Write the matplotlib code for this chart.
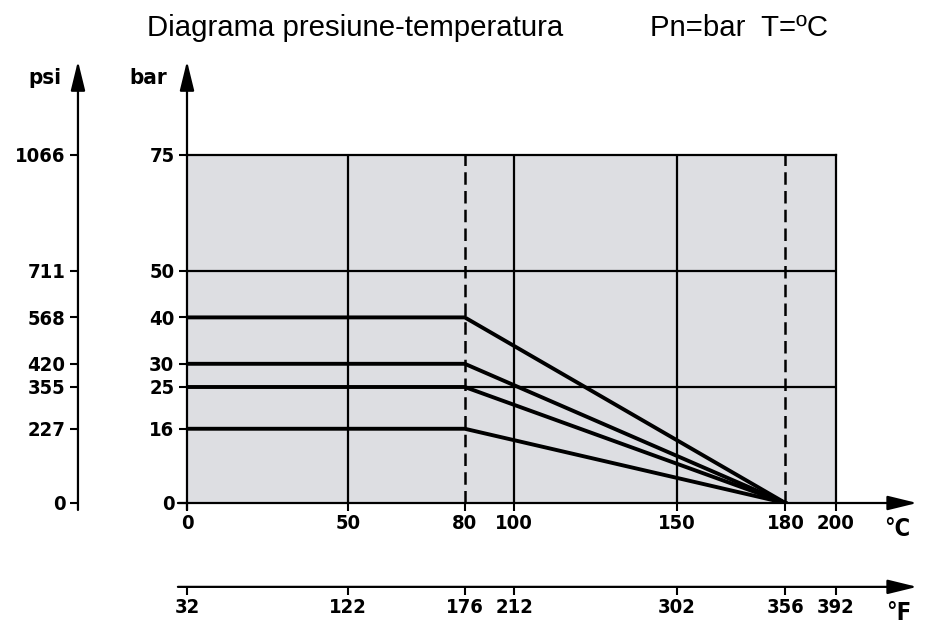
import matplotlib.pyplot as plt
import numpy as np

# pressure-temperature rating: flat up to 80 C, then down to 0 bar at 180 C
temp_c = [0, 80, 180]
pn_bar = [40, 30, 25, 16]

c_ticks = [0, 50, 80, 100, 150, 180, 200]
f_ticks = [32, 122, 176, 212, 302, 356, 392]
bar_ticks = [0, 16, 25, 30, 40, 50, 75]
psi_labels = ['0', '227', '355', '420', '568', '711', '1066']
grid_x = [50, 100, 150]
dash_x = [80, 180]
grid_y = [25, 50]

# the original drawing is not to scale along the temperature axis:
# where each tick value sits, as a fraction of the axis length
drawn_frac = [0, 0.248, 0.428, 0.504, 0.755, 0.922, 1.0]


def c_fwd(x):
    return np.interp(x, c_ticks, drawn_frac)


def c_inv(x):
    return np.interp(x, drawn_frac, c_ticks)


def f_fwd(x):
    return np.interp(x, f_ticks, drawn_frac)


def f_inv(x):
    return np.interp(x, drawn_frac, f_ticks)


plt.rcParams['font.family'] = 'DejaVu Sans'
plt.rcParams['font.stretch'] = 'condensed'
plt.rcParams['font.weight'] = 'bold'
fig = plt.figure(figsize=(9.31, 6.29), dpi=100)
ax = fig.add_axes([187 / 931, 126 / 629, 649 / 931, 348 / 629])
ax.set_facecolor('#dddee2')
ax.set_xscale('function', functions=(c_fwd, c_inv))
ax.set_xlim(0, 200)
ax.set_ylim(0, 75)

for x in grid_x:
    ax.axvline(x, color='k', lw=1.6)
for x in dash_x:
    ax.axvline(x, color='k', lw=1.8, dashes=(5, 2.5))
for y in grid_y:
    ax.axhline(y, color='k', lw=1.6)
for p in pn_bar:
    ax.plot(temp_c, [p, p, 0], color='k', lw=2.8, solid_joinstyle='miter')

ax.spines['left'].set_visible(False)
ax.spines['bottom'].set_visible(False)
ax.spines['top'].set_linewidth(1.6)
ax.spines['right'].set_linewidth(1.6)

tick_font = dict(labelsize=14.5, width=1.5, length=6, direction='out')
ax.set_xticks(c_ticks, labels=[str(c) for c in c_ticks])
ax.set_yticks(bar_ticks, labels=[str(b) for b in bar_ticks])
ax.xaxis.set_minor_locator(plt.NullLocator())
ax.tick_params(axis='x', pad=2, **tick_font)
ax.tick_params(axis='y', pad=3, **tick_font)

sec_psi = ax.secondary_yaxis(-0.168)
sec_psi.set_yticks(bar_ticks, labels=psi_labels)
sec_psi.tick_params(axis='y', pad=3, **tick_font)
for s in sec_psi.spines.values():
    s.set_visible(False)

# Fahrenheit axis, same drawn positions as the Celsius ticks
ax_f = fig.add_axes([187 / 931, (629 - 587) / 629, 649 / 931, 0.0001])
ax_f.set_xscale('function', functions=(f_fwd, f_inv))
ax_f.set_xlim(32, 392)
ax_f.set_yticks([])
ax_f.set_xticks(f_ticks, labels=[str(f) for f in f_ticks])
ax_f.xaxis.set_minor_locator(plt.NullLocator())
ax_f.tick_params(axis='x', pad=2, **tick_font)
for s in ax_f.spines.values():
    s.set_visible(False)

arrow = dict(arrowstyle='-|>,head_length=0.9,head_width=0.22', color='k', lw=1.6,
             mutation_scale=20, shrinkA=0, shrinkB=0)
for x0 in [0, -0.168]:
    ax.annotate('', xy=(x0, 1.27), xytext=(x0, -0.02), xycoords='axes fraction',
                arrowprops=arrow, annotation_clip=False)
for y0 in [0, -0.241]:
    ax.annotate('', xy=(1.125, y0), xytext=(-0.014, y0), xycoords='axes fraction',
                arrowprops=arrow, annotation_clip=False)

ax.text(-0.219, 1.221, 'psi', transform=ax.transAxes, ha='center', va='center', fontsize=16)
ax.text(-0.060, 1.221, 'bar', transform=ax.transAxes, ha='center', va='center', fontsize=16)
ax.text(1.095, -0.075, '°C', transform=ax.transAxes, ha='center', va='center', fontsize=17)
ax.text(1.097, -0.315, '°F', transform=ax.transAxes, ha='center', va='center', fontsize=17)

fig.text(147 / 931, 1 - 28 / 629, 'Diagrama presiune-temperatura', va='center',
         fontfamily='Liberation Sans', fontstretch='normal', fontweight='normal',
         fontsize=21.2)
fig.text(650 / 931, 1 - 28 / 629, 'Pn=bar  T=ºC', va='center',
         fontfamily='Liberation Sans', fontstretch='normal', fontweight='normal',
         fontsize=21.2)

fig.savefig('out.png', dpi=100)
